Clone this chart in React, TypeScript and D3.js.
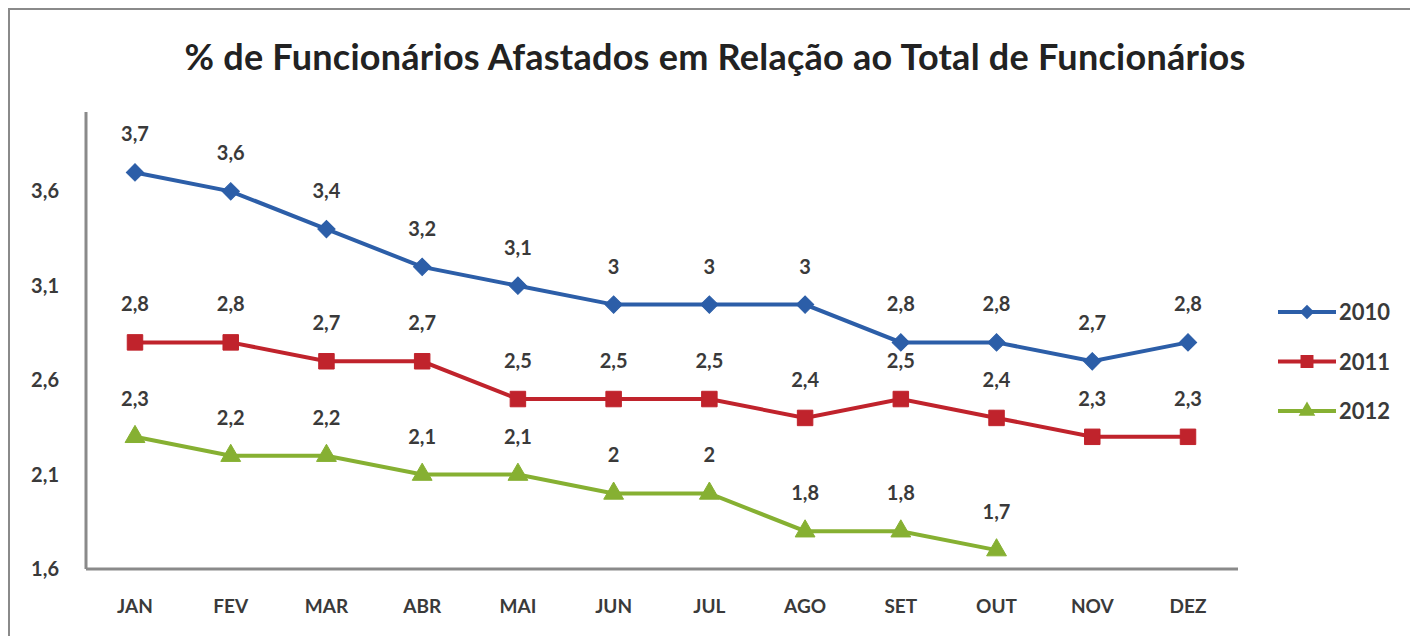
import { scaleLinear, scalePoint, line, symbol, symbolSquare, symbolTriangle } from "d3";

const months = ["JAN", "FEV", "MAR", "ABR", "MAI", "JUN", "JUL", "AGO", "SET", "OUT", "NOV", "DEZ"];
const v2010 = [3.7, 3.6, 3.4, 3.2, 3.1, 3, 3, 3, 2.8, 2.8, 2.7, 2.8];
const v2011 = [2.8, 2.8, 2.7, 2.7, 2.5, 2.5, 2.5, 2.4, 2.5, 2.4, 2.3, 2.3];
const v2012 = [2.3, 2.2, 2.2, 2.1, 2.1, 2, 2, 1.8, 1.8, 1.7];
const yTicks = [1.6, 2.1, 2.6, 3.1, 3.6];
const seriesNames = ["2010", "2011", "2012"];

const fmt = (v: number) => String(v).replace(".", ",");
const font = "Lato, 'Open Sans', sans-serif";
const textColor = "#3a3a3a";

export default function App() {
  const width = 1410;
  const height = 636;
  const x = scalePoint<string>().domain(months).range([135, 1188]);
  const y = scaleLinear().domain([1.6, 4.02]).range([569, 112]);

  // diamond = square turned 45deg
  const series = [
    { name: seriesNames[0], values: v2010, color: "#2c5ea8", shape: symbolSquare, size: 150, rot: 45 },
    { name: seriesNames[1], values: v2011, color: "#c0232c", shape: symbolSquare, size: 240, rot: 0 },
    { name: seriesNames[2], values: v2012, color: "#86b032", shape: symbolTriangle, size: 170, rot: 0 },
  ];

  const path = line<number>()
    .x((_, i) => x(months[i]) as number)
    .y((d) => y(d));

  return (
    <svg
      width={width}
      height={height}
      style={{ position: "absolute", left: 0, top: 0, background: "#fff" }}
      fontFamily={font}
    >
      <rect x={9} y={9} width={1420} height={660} fill="none" stroke="#8a8a8a" strokeWidth={2} />
      <text x={715} y={70} textAnchor="middle" fontSize={36} fontWeight="bold" fill="#222" letterSpacing={0.25}>
        % de Funcionários Afastados em Relação ao Total de Funcionários
      </text>

      <line x1={86} x2={86} y1={112} y2={569} stroke="#8a8a8a" strokeWidth={3} />
      <line x1={86} x2={1238} y1={569} y2={569} stroke="#8a8a8a" strokeWidth={3} />

      {yTicks.map((t) => (
        <text key={t} x={59} y={y(t) + 7} textAnchor="end" fontSize={20} fontWeight="bold" fill={textColor}>
          {fmt(t)}
        </text>
      ))}
      {months.map((m) => (
        <text key={m} x={x(m)} y={613} textAnchor="middle" fontSize={19} fontWeight="bold" fill={textColor}>
          {m}
        </text>
      ))}

      {series.map((s) => (
        <g key={s.name}>
          <path d={path(s.values) ?? ""} fill="none" stroke={s.color} strokeWidth={4} />
          {s.values.map((v, i) => {
            const px = x(months[i]) as number;
            const py = y(v);
            return (
              <g key={i}>
                <path
                  d={symbol(s.shape, s.size)() ?? ""}
                  transform={`translate(${px},${py}) rotate(${s.rot})`}
                  fill={s.color}
                  stroke={s.color}
                  strokeWidth={1}
                />
                <text x={px} y={py - 31} textAnchor="middle" fontSize={20} fontWeight="bold" fill={textColor}>
                  {fmt(v)}
                </text>
              </g>
            );
          })}
        </g>
      ))}

      {series.map((s, i) => {
        const ly = 312 + i * 49.5;
        return (
          <g key={s.name}>
            <line x1={1278} x2={1336} y1={ly} y2={ly} stroke={s.color} strokeWidth={4} />
            <path
              d={symbol(s.shape, s.size * 0.7)() ?? ""}
              transform={`translate(1307,${ly}) rotate(${s.rot})`}
              fill={s.color}
            />
            <text x={1339} y={ly + 8} fontSize={22} fontWeight="bold" fill={textColor}>
              {s.name}
            </text>
          </g>
        );
      })}
    </svg>
  );
}
